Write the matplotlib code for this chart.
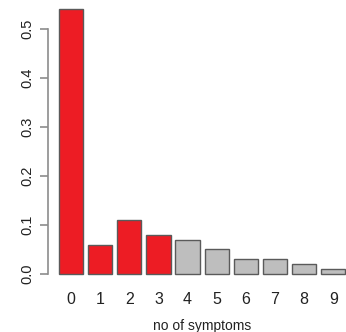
import matplotlib
matplotlib.use("Agg")
import matplotlib.pyplot as plt
import numpy as np

# proportion of patients by number of symptoms
symptoms = ["0", "1", "2", "3", "4", "5", "6", "7", "8", "9"]
proportion = [0.54, 0.06, 0.11, 0.08, 0.07, 0.05, 0.03, 0.03, 0.02, 0.01]
highlight = [True, True, True, True, False, False, False, False, False, False]

RED = "#ED1C24"
GREY = "#BEBEBE"

plt.rcParams["font.family"] = ["Liberation Sans", "DejaVu Sans"]

fig = plt.figure(figsize=(3.46, 3.32), dpi=100)
# R-style barplot layout: width 1, space 0.2, 4% padding on both axes
ax = fig.add_axes([47.5 / 346, 47.4 / 332, 309.3 / 346, 286.3 / 332])

space, width = 0.2, 1.0
centers = space + width / 2 + np.arange(len(proportion)) * (space + width)
colors = [RED if h else GREY for h in highlight]
ax.bar(centers, proportion, width=width, color=colors,
       edgecolor="#5a5a5a", linewidth=1.0)

left, right = space, centers[-1] + width / 2
pad_x = 0.04 * (right - left)
ax.set_xlim(left - pad_x, right + pad_x)
top = max(proportion)
ax.set_ylim(-0.04 * top, top * 1.04)

for side in ["top", "right", "bottom"]:
    ax.spines[side].set_visible(False)
ax.spines["left"].set_bounds(0, 0.5)
ax.spines["left"].set_color("#8c8c8c")
ax.spines["left"].set_linewidth(1.2)

ax.set_yticks(np.arange(0, 0.51, 0.1))
ax.set_yticklabels([f"{v:.1f}" for v in np.arange(0, 0.51, 0.1)],
                   rotation=90, va="center", fontsize=10.5)
ax.tick_params(axis="y", length=5.5, width=1.2, color="#8c8c8c", pad=4,
               labelcolor="#222222")

ax.set_xticks(centers)
ax.set_xticklabels(symptoms, fontsize=11.5)
ax.tick_params(axis="x", length=0, pad=5, labelcolor="#222222")
ax.set_xlabel("no of symptoms", fontsize=10, color="#222222", labelpad=9)

fig.savefig("out.png", dpi=100)
